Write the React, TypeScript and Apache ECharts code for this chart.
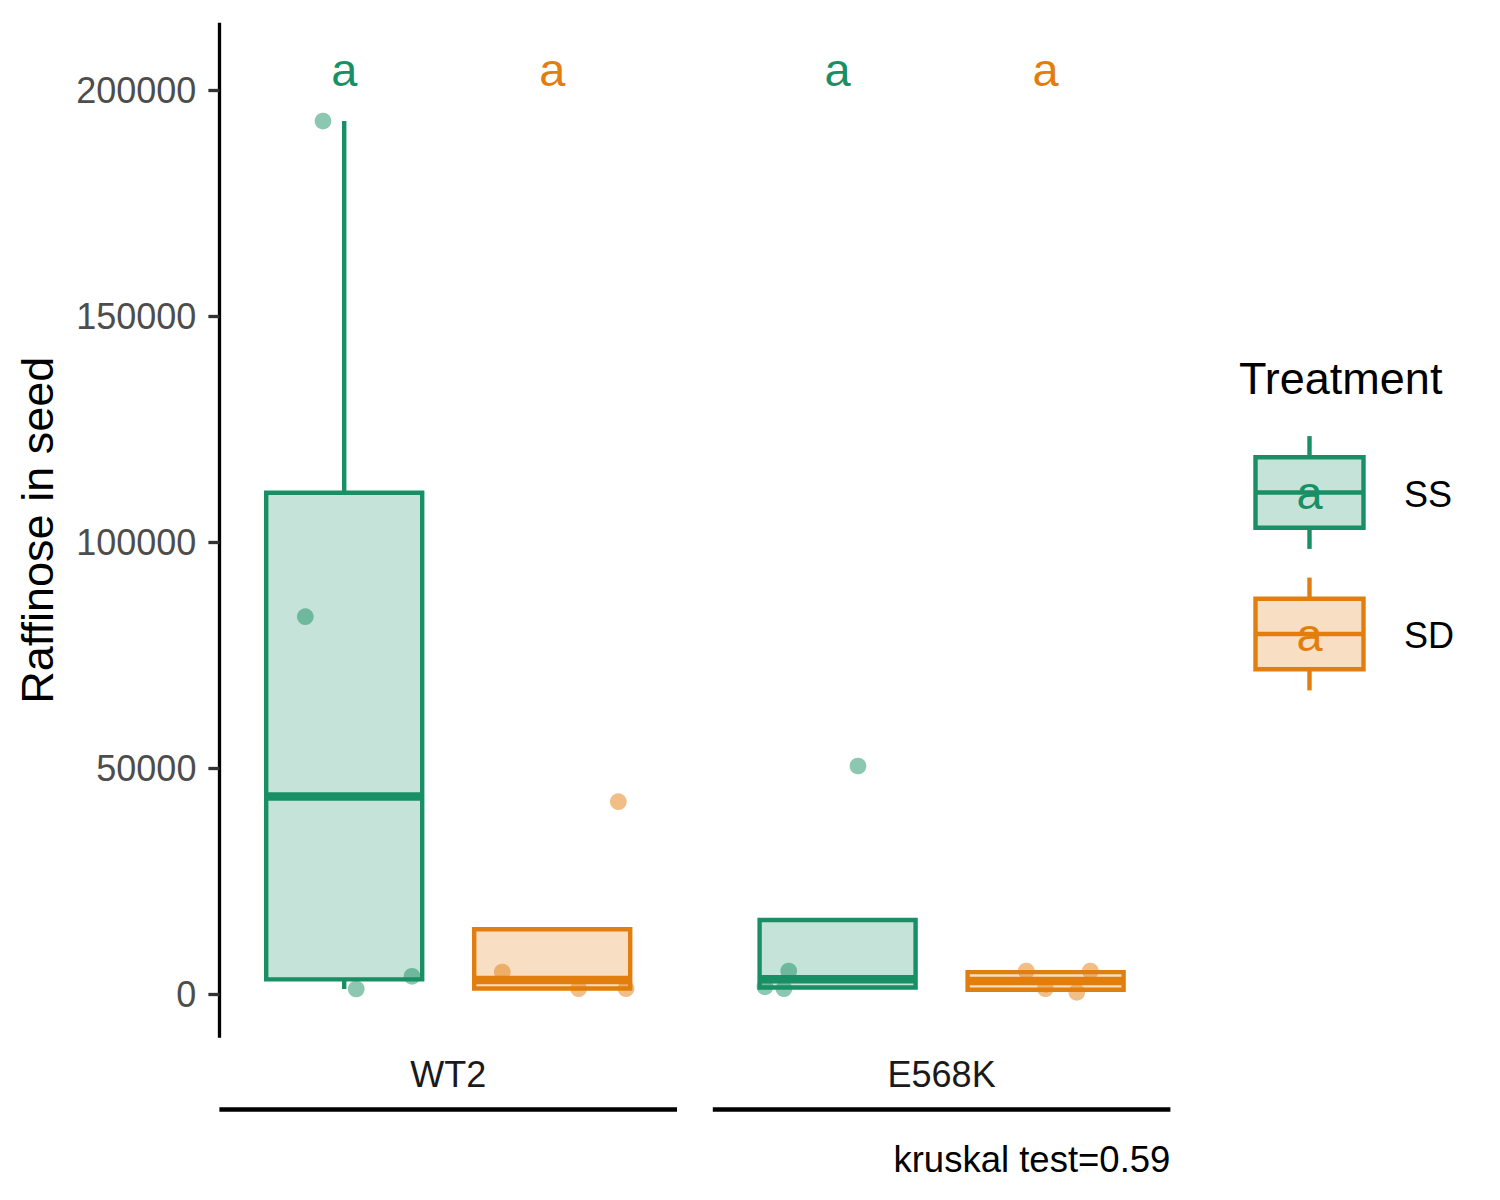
import React, { useEffect, useRef } from "react";
import * as echarts from "echarts";

const FONT = "'Liberation Sans', Arial, Helvetica, sans-serif";

// ---- data ----
const panels = ["WT2", "E568K"];
const treatments = ["SS", "SD"];
const treatmentX = [1, 2];
const treatmentColors = ["#188F64", "#E27E0E"];
const treatmentFills = ["rgba(24,143,100,0.25)", "rgba(226,126,14,0.25)"];

// box statistics per treatment: [min, Q1, median, Q3, max]
const wt2Boxes = [
  [1173, 3300, 43800, 111000, 193270],
  [1240, 1300, 3165, 14390, 4936],
];
const e568kBoxes = [
  [1240, 1500, 3350, 16450, 5157],
  [443, 1000, 2950, 4900, 5157],
];

// jittered observations: [x position, value]
const wt2SSPoints = [[0.898, 193271], [0.813, 83577], [1.058, 1173], [1.326, 3984]];
const wt2SDPoints = [[1.76, 4936], [2.127, 1240], [2.355, 1240], [2.318, 42630]];
const e568kSSPoints = [[0.651, 1682], [0.742, 1240], [0.765, 5157], [1.098, 50531]];
const e568kSDPoints = [[1.907, 5157], [1.999, 1240], [2.15, 443], [2.215, 5157]];

const letterLabels = [["a", "a"], ["a", "a"]];
const letterY = 204600;
const yTicks = [0, 50000, 100000, 150000, 200000];
const yMin = -9606;
const yMax = 215050;
const xMin = 0.4;
const xMax = 2.6;
const boxHalfWidth = 0.375;
const caption = "kruskal test=0.59";
const yTitle = "Raffinose in seed";
const legendTitle = "Treatment";

// ---- layout ----
const GRID_TOP = 22.7;
const GRID_H = 1015;
const GRID_W = 457.6;
const GRID_LEFTS = [219.4, 712.8];
const BOX_LW = 4.4;
const MEDIAN_LW = 8.5;

const panelBoxes = [wt2Boxes, e568kBoxes];
const panelPoints = [
  [wt2SSPoints, wt2SDPoints],
  [e568kSSPoints, e568kSDPoints],
];

function boxRender(params: any, api: any) {
  const x = api.value(0);
  const mn = api.value(1);
  const q1 = api.value(2);
  const md = api.value(3);
  const q3 = api.value(4);
  const mx = api.value(5);
  const t = api.value(6);
  const color = treatmentColors[t];
  const pTL = api.coord([x - boxHalfWidth, q3]);
  const pBR = api.coord([x + boxHalfWidth, q1]);
  const pMd = api.coord([x, md]);
  const yMn = api.coord([x, mn])[1];
  const yMx = api.coord([x, mx])[1];
  const cx = pMd[0];
  const children: any[] = [];
  if (mx > q3) {
    children.push({
      type: "line",
      shape: { x1: cx, y1: pTL[1], x2: cx, y2: yMx },
      style: { stroke: color, lineWidth: BOX_LW },
    });
  }
  if (mn < q1) {
    children.push({
      type: "line",
      shape: { x1: cx, y1: pBR[1], x2: cx, y2: yMn },
      style: { stroke: color, lineWidth: BOX_LW },
    });
  }
  children.push({
    type: "rect",
    shape: { x: pTL[0], y: pTL[1], width: pBR[0] - pTL[0], height: pBR[1] - pTL[1] },
    style: { fill: treatmentFills[t], stroke: color, lineWidth: BOX_LW },
  });
  children.push({
    type: "line",
    shape: { x1: pTL[0], y1: pMd[1], x2: pBR[0], y2: pMd[1] },
    style: { stroke: color, lineWidth: MEDIAN_LW },
  });
  return { type: "group", children };
}

function letterRender(params: any, api: any) {
  const p = api.coord([api.value(0), api.value(1)]);
  const t = api.value(2);
  const panel = api.value(3);
  return {
    type: "text",
    x: p[0],
    y: p[1],
    style: {
      text: letterLabels[panel][t],
      fill: treatmentColors[t],
      fontSize: 47,
      fontFamily: FONT,
      align: "center",
      verticalAlign: "middle",
    },
  };
}

function buildOption() {
  const grids = GRID_LEFTS.map((left) => ({
    left,
    top: GRID_TOP,
    width: GRID_W,
    height: GRID_H,
  }));

  const xAxes = panels.map((_, i) => ({
    type: "value",
    gridIndex: i,
    min: xMin,
    max: xMax,
    position: "bottom",
    offset: 71.3,
    axisLine: { show: true, onZero: false, lineStyle: { color: "#000", width: 4.5, cap: "butt" } },
    axisTick: { show: false },
    axisLabel: { show: false },
    splitLine: { show: false },
  }));

  const yAxes = panels.map((_, i) => ({
    type: "value",
    gridIndex: i,
    min: yMin,
    max: yMax,
    show: i === 0,
    name: i === 0 ? yTitle : "",
    nameLocation: "middle",
    nameRotate: 90,
    nameGap: 159,
    nameTextStyle: { fontSize: 45, color: "#000", fontFamily: FONT },
    axisLine: { show: true, onZero: false, lineStyle: { color: "#000", width: 3.3, cap: "butt" } },
    axisTick: {
      show: true,
      length: 11,
      customValues: yTicks,
      lineStyle: { color: "#333333", width: 3.3 },
    },
    axisLabel: {
      show: true,
      customValues: yTicks,
      formatter: (v: number) => String(Math.round(v)),
      margin: 23,
      fontSize: 36,
      color: "#4D4D4D",
      fontFamily: FONT,
    },
    splitLine: { show: false },
  }));

  const series: any[] = [];
  panels.forEach((_, pi) => {
    series.push({
      type: "custom",
      xAxisIndex: pi,
      yAxisIndex: pi,
      z: 2,
      silent: true,
      renderItem: boxRender,
      encode: { x: 0, y: [1, 2, 3, 4, 5] },
      data: panelBoxes[pi].map((b, ti) => [treatmentX[ti], ...b, ti]),
    });
    treatments.forEach((tr, ti) => {
      series.push({
        type: "scatter",
        name: `${panels[pi]} ${tr}`,
        xAxisIndex: pi,
        yAxisIndex: pi,
        z: 3,
        silent: true,
        symbol: "circle",
        symbolSize: 16.7,
        itemStyle: { color: treatmentColors[ti], opacity: 0.5 },
        data: panelPoints[pi][ti],
      });
    });
    series.push({
      type: "custom",
      xAxisIndex: pi,
      yAxisIndex: pi,
      z: 4,
      silent: true,
      renderItem: letterRender,
      encode: { x: 0, y: 1 },
      data: treatments.map((_, ti) => [treatmentX[ti], letterY, ti, pi]),
    });
  });

  // legend, strip labels, caption
  const graphic: any[] = [];
  graphic.push({
    type: "text",
    x: 1239,
    y: 378.4,
    style: {
      text: legendTitle,
      fontSize: 45,
      fontFamily: FONT,
      fill: "#000",
      align: "left",
      verticalAlign: "middle",
    },
  });
  const keyCx = 1309.5;
  const keyW = 144;
  const keyH = 141;
  const keyCys = [492.5, 634];
  treatments.forEach((tr, ti) => {
    const cy = keyCys[ti];
    const color = treatmentColors[ti];
    graphic.push({
      type: "group",
      children: [
        {
          type: "line",
          shape: { x1: keyCx, y1: cy - 0.4 * keyH, x2: keyCx, y2: cy - 0.25 * keyH },
          style: { stroke: color, lineWidth: BOX_LW },
        },
        {
          type: "line",
          shape: { x1: keyCx, y1: cy + 0.25 * keyH, x2: keyCx, y2: cy + 0.4 * keyH },
          style: { stroke: color, lineWidth: BOX_LW },
        },
        {
          type: "rect",
          shape: { x: keyCx - 0.375 * keyW, y: cy - 0.25 * keyH, width: 0.75 * keyW, height: 0.5 * keyH },
          style: { fill: treatmentFills[ti], stroke: color, lineWidth: BOX_LW },
        },
        {
          type: "line",
          shape: { x1: keyCx - 0.375 * keyW, y1: cy, x2: keyCx + 0.375 * keyW, y2: cy },
          style: { stroke: color, lineWidth: BOX_LW },
        },
        {
          type: "text",
          x: keyCx,
          y: cy,
          style: {
            text: "a",
            fontSize: 47,
            fontFamily: FONT,
            fill: color,
            align: "center",
            verticalAlign: "middle",
          },
        },
        {
          type: "text",
          x: 1404,
          y: cy + 1.5,
          style: {
            text: tr,
            fontSize: 36,
            fontFamily: FONT,
            fill: "#000",
            align: "left",
            verticalAlign: "middle",
          },
        },
      ],
    });
  });
  panels.forEach((p, pi) => {
    graphic.push({
      type: "text",
      x: GRID_LEFTS[pi] + GRID_W / 2,
      y: 1074.8,
      style: {
        text: p,
        fontSize: 36,
        fontFamily: FONT,
        fill: "#1A1A1A",
        align: "center",
        verticalAlign: "middle",
      },
    });
  });
  graphic.push({
    type: "text",
    x: GRID_LEFTS[1] + GRID_W,
    y: 1159,
    style: {
      text: caption,
      fontSize: 36.5,
      fontFamily: FONT,
      fill: "#000",
      align: "right",
      verticalAlign: "middle",
    },
  });

  return {
    animation: false,
    backgroundColor: "#FFFFFF",
    textStyle: { fontFamily: FONT },
    grid: grids,
    xAxis: xAxes,
    yAxis: yAxes,
    series,
    graphic,
  };
}

export default function App() {
  const ref = useRef<HTMLDivElement>(null);
  useEffect(() => {
    if (!ref.current) return;
    const chart = echarts.init(ref.current, undefined, { renderer: "svg" });
    chart.setOption(buildOption() as any);
    return () => {
      chart.dispose();
    };
  }, []);
  return (
    <div
      ref={ref}
      style={{ position: "absolute", left: 0, top: 0, width: 1500, height: 1200, background: "#fff" }}
    />
  );
}
